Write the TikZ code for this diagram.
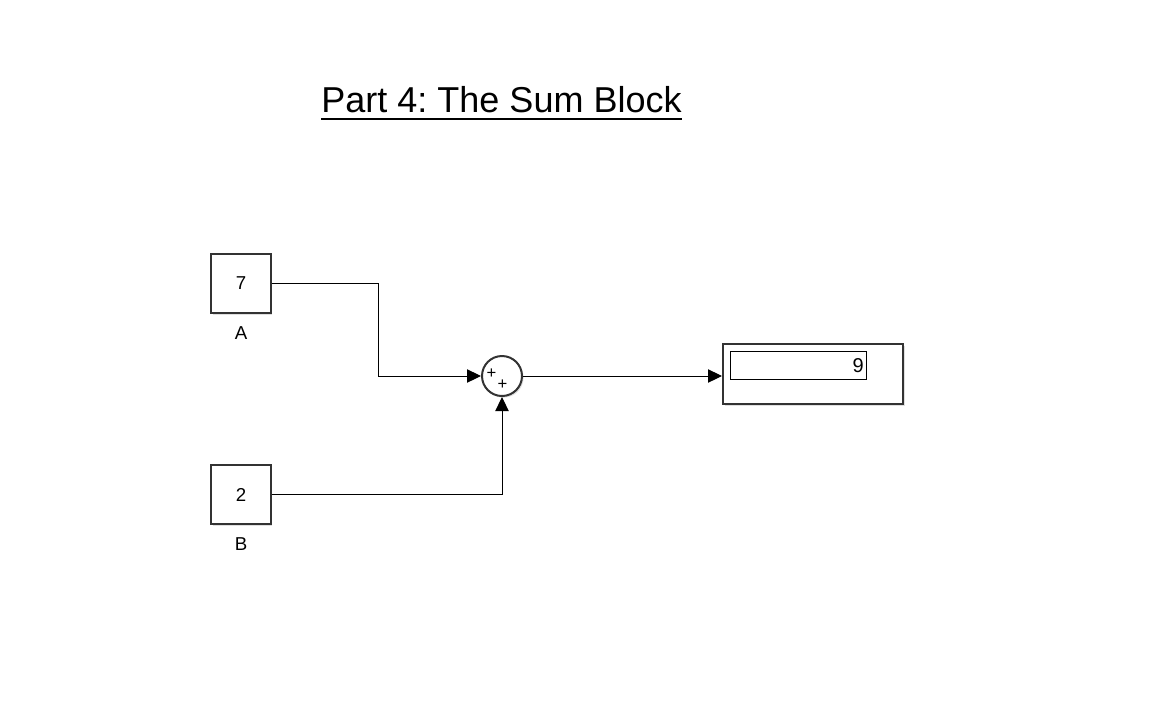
\documentclass[tikz,border=0pt]{standalone}
\usepackage{fontspec}
\setmainfont{Liberation Sans}
\usetikzlibrary{arrows.meta,shadows}
\frenchspacing
\begin{document}
\begin{tikzpicture}[x=0.75pt,y=-0.75pt]
	\tikzstyle{block} = [draw=black!80, line width=1.5pt, fill=white, minimum size=44.5pt, inner sep=0,
			drop shadow={shadow xshift=1.2pt, shadow yshift=-1.2pt, opacity=0.25}, font=\fontsize{14}{16}\selectfont]
	\tikzstyle{sumblock} = [block, circle, minimum size=30pt]
	\tikzstyle{lbl} = [font=\fontsize{14}{16}\selectfont]
	\tikzstyle{signal} = [-{Triangle[length=10.5pt,width=10pt]}, line width=0.75pt]
	\tikzstyle{sign} = [inner sep=0, font=\fontsize{12.5}{12.5}\selectfont]

	\useasboundingbox (0,0) rectangle (1156,726);

	% title
	\node [inner sep=0, font=\fontsize{27}{30}\selectfont] (title) at (501.5,100) {Part 4: The Sum Block};
	\draw [line width=1.5pt] ([yshift=-4.5pt]title.base west) -- ([yshift=-4.5pt]title.base east);

	\begin{scope}
	\node [block] (constA) at (241,283.5) {7};
	\node [lbl] (nameA) at (241,333) {A};
	\end{scope}
	\begin{scope}
	\node [block] (constB) at (241,494.5) {2};
	\node [lbl] (nameB) at (241,544) {B};
	\end{scope}

	\node [sumblock] (sum) at (502,376) {};
	\node [sign] (plus1) at (491.5,374) {+};
	\node [sign] (plus2) at (502.5,385) {+};

	\node [block, minimum width=135pt, minimum height=45pt] (disp) at (813,374) {};
	\node [draw, line width=0.75pt, anchor=north west, minimum width=102.5pt, minimum height=21.5pt,
			text width=98pt, align=right, inner xsep=2pt, font=\fontsize{15}{16}\selectfont] (dispval) at (729.5,350.5) {9};

	\coordinate (bendA) at (378,283.5);
	\draw [signal] (constA.east) -- (bendA) |- (sum.west);
	\draw [signal] (constB.east) -| (sum.south);
	\draw [signal] (sum.east) -- (sum.east -| disp.west);
\end{tikzpicture}
\end{document}
